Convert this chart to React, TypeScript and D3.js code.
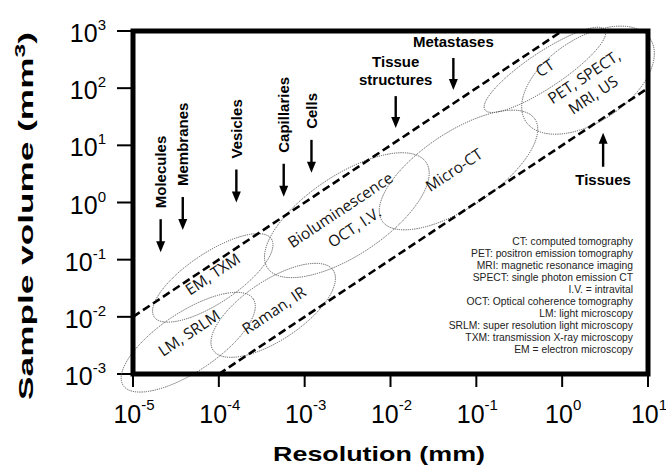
import React, { useEffect, useRef } from "react";
import * as d3 from "d3";

// axis ticks, powers of ten
const xExponents = [-5, -4, -3, -2, -1, 0, 1];
const yExponents = [-3, -2, -1, 0, 1, 2, 3];

// dashed boundaries, [resolution mm, volume mm3]
const upperBound: [number, number][] = [[1e-5, 1e-2], [1, 1e3]];
const lowerBound: [number, number][] = [[1e-4, 1e-3], [10, 1e2]];

// imaging technique ellipses: centre and semi axes (in decades)
const techRes = [4.4e-5, 8.5e-5, 4.3e-4, 3.1e-3, 0.062, 0.63, 2.0];
const techVol = [3.6e-3, 0.048, 0.013, 0.6, 3.7, 209, 138];
const techMajor = [0.91, 0.82, 0.84, 1.11, 1.07, 0.84, 0.87];
const techMinor = [0.52, 0.44, 0.52, 0.7, 0.66, 0.31, 0.73];

// text written inside the ellipses
const techLabels = ["LM, SRLM", "EM, TXM", "Raman, IR", "Bioluminescence", "OCT, I.V.", "Micro-CT", "CT", "PET, SPECT,", "MRI, US"];
const techLabelRes = [4.5e-5, 8.5e-5, 4.4e-4, 2.6e-3, 3.8e-3, 0.055, 0.63, 1.8, 2.3];
const techLabelVol = [5.2e-3, 0.056, 0.013, 0.74, 0.37, 3.7, 225, 157, 76];

// biological structures with arrows (tip at [res, vol])
const structures = ["Molecules", "Membranes", "Vesicles", "Capillaries", "Cells", "Tissue structures", "Metastases", "Tissues"];
const structRes = [2.1e-5, 3.8e-5, 1.6e-4, 5.7e-4, 1.2e-3, 0.0115, 0.054, 3.0];
const structTip = [0.135, 0.33, 1.0, 1.26, 3.3, 20, 93, 16.6];
const structKind = ["v", "v", "v", "v", "v", "h", "h", "up"];

const legendLines = [
  "CT: computed tomography",
  "PET: positron emission tomography",
  "MRI: magnetic resonance imaging",
  "SPECT: single photon emission CT",
  "I.V. = intravital",
  "OCT: Optical coherence tomography",
  "LM: light microscopy",
  "SRLM: super resolution light microscopy",
  "TXM: transmission X-ray microscopy",
  "EM = electron microscopy",
];

const W = 666;
const H = 468;

export default function App() {
  const ref = useRef<SVGSVGElement>(null);

  useEffect(() => {
    let svg = d3.select(ref.current);
    svg.selectAll("*").remove();

    let left = 133, right = 648, top = 31, bottom = 374;

    let x = d3.scaleLog().domain([1e-5, 10]).range([left, right]);
    let y = d3.scaleLog().domain([1e-3, 1e3]).range([bottom, top]);

    let decX = x(10) - x(1);
    let decY = y(1) - y(10);
    let angle = -Math.atan(decY / decX) * 180 / Math.PI;

    let sans = "Liberation Sans, Arial, sans-serif";

    // ticks
    svg.append("g").selectAll("line")
      .data(yExponents)
      .enter().append("line")
      .attr("x1", left - 16).attr("x2", left)
      .attr("y1", d => y(Math.pow(10, d))).attr("y2", d => y(Math.pow(10, d)))
      .attr("stroke", "#000").attr("stroke-width", 2);

    svg.append("g").selectAll("line")
      .data(xExponents)
      .enter().append("line")
      .attr("x1", d => x(Math.pow(10, d))).attr("x2", d => x(Math.pow(10, d)))
      .attr("y1", bottom).attr("y2", bottom + 13)
      .attr("stroke", "#000").attr("stroke-width", 2);

    // tick labels
    let yl = svg.append("g").selectAll("text")
      .data(yExponents)
      .enter().append("text")
      .attr("x", 106)
      .attr("y", d => y(Math.pow(10, d)) + 11)
      .attr("text-anchor", "end")
      .attr("font-family", sans)
      .attr("font-size", 25);
    yl.append("tspan").text("10");
    yl.append("tspan").attr("dy", -12).attr("font-size", 15).text(d => String(d));

    let xl = svg.append("g").selectAll("text")
      .data(xExponents)
      .enter().append("text")
      .attr("x", d => x(Math.pow(10, d)) + 1)
      .attr("y", 423)
      .attr("text-anchor", "middle")
      .attr("font-family", sans)
      .attr("font-size", 25);
    xl.append("tspan").text("10");
    xl.append("tspan").attr("dy", -13).attr("font-size", 15).text(d => String(d));

    // ellipses
    let eg = svg.append("g");
    techRes.forEach((r, i) => {
      eg.append("ellipse")
        .attr("transform", `translate(${x(r)},${y(techVol[i])}) rotate(${angle})`)
        .attr("rx", techMajor[i] * decX)
        .attr("ry", techMinor[i] * decY)
        .attr("fill", "none")
        .attr("stroke", "#555")
        .attr("stroke-width", 0.9)
        .attr("stroke-dasharray", "1.2,1");
    });

    techLabels.forEach((t, i) => {
      eg.append("text")
        .attr("transform", `translate(${x(techLabelRes[i])},${y(techLabelVol[i])}) rotate(${angle})`)
        .attr("text-anchor", "middle")
        .attr("dy", "0.35em")
        .attr("font-family", "Open Sans, sans-serif")
        .attr("font-size", 15.5)
        .attr("fill", "#111")
        .text(t);
    });

    // dashed bounds
    let line = d3.line<[number, number]>().x(d => x(d[0])).y(d => y(d[1]));
    [upperBound, lowerBound].forEach(b => {
      svg.append("path")
        .attr("d", line(b))
        .attr("fill", "none")
        .attr("stroke", "#000")
        .attr("stroke-width", 2.6)
        .attr("stroke-dasharray", "8,4");
    });

    // frame
    svg.append("rect")
      .attr("x", left).attr("y", top)
      .attr("width", right - left).attr("height", bottom - top)
      .attr("fill", "none")
      .attr("stroke", "#000")
      .attr("stroke-width", 5);

    // structure arrows + labels
    let ag = svg.append("g");
    let arrow = (ax: number, y0: number, y1: number) => {
      let dir = y1 > y0 ? 1 : -1;
      ag.append("line")
        .attr("x1", ax).attr("x2", ax)
        .attr("y1", y0).attr("y2", y1 - dir * 9)
        .attr("stroke", "#000").attr("stroke-width", 2.4);
      ag.append("path")
        .attr("d", `M${ax - 4.5},${y1 - dir * 11}L${ax + 4.5},${y1 - dir * 11}L${ax},${y1}Z`)
        .attr("fill", "#000");
    };
    structures.forEach((s, i) => {
      let ax = x(structRes[i]);
      let tip = y(structTip[i]);
      let kind = structKind[i];
      if (kind === "v") {
        arrow(ax, tip - 33, tip);
        ag.append("text")
          .attr("transform", `translate(${ax},${tip - 44}) rotate(-90)`)
          .attr("dy", "0.35em")
          .attr("font-family", sans).attr("font-weight", "bold").attr("font-size", 15)
          .text(s);
      } else if (kind === "h") {
        arrow(ax, tip - 32, tip);
        let words = s.split(" ");
        words.forEach((w, k) => {
          ag.append("text")
            .attr("x", ax)
            .attr("y", tip - 43 - (words.length - 1 - k) * 18)
            .attr("text-anchor", "middle")
            .attr("font-family", sans).attr("font-weight", "bold").attr("font-size", 15)
            .text(w);
        });
      } else {
        arrow(ax, tip + 34, tip);
        ag.append("text")
          .attr("x", ax).attr("y", tip + 52)
          .attr("text-anchor", "middle")
          .attr("font-family", sans).attr("font-weight", "bold").attr("font-size", 15)
          .text(s);
      }
    });

    // abbreviation legend
    let lg = svg.append("g");
    legendLines.forEach((t, i) => {
      lg.append("text")
        .attr("x", 633).attr("y", 245 + i * 12)
        .attr("text-anchor", "end")
        .attr("font-family", sans).attr("font-size", 10.3)
        .attr("fill", "#222")
        .text(t);
    });

    // axis titles, stretched to the original width
    let xt = svg.append("text")
      .attr("text-anchor", "middle")
      .attr("font-family", sans).attr("font-weight", "bold").attr("font-size", 21)
      .text("Resolution (mm)");
    let xw = (xt.node() as SVGTextElement).getComputedTextLength();
    xt.attr("transform", `translate(379,461) scale(${212 / xw},1)`);

    let yt = svg.append("text")
      .attr("text-anchor", "middle")
      .attr("font-family", sans).attr("font-weight", "bold").attr("font-size", 20);
    yt.append("tspan").text("Sample volume (mm");
    yt.append("tspan").attr("dy", -8).attr("font-size", 14).text("3");
    yt.append("tspan").attr("dy", 8).text(")");
    let yw = (yt.node() as SVGTextElement).getComputedTextLength();
    yt.attr("transform", `translate(33,216) rotate(-90) scale(${368 / yw},1)`);
  }, []);

  return (
    <svg ref={ref} width={W} height={H}
      style={{ position: "absolute", left: 0, top: 0, background: "#fff" }} />
  );
}
